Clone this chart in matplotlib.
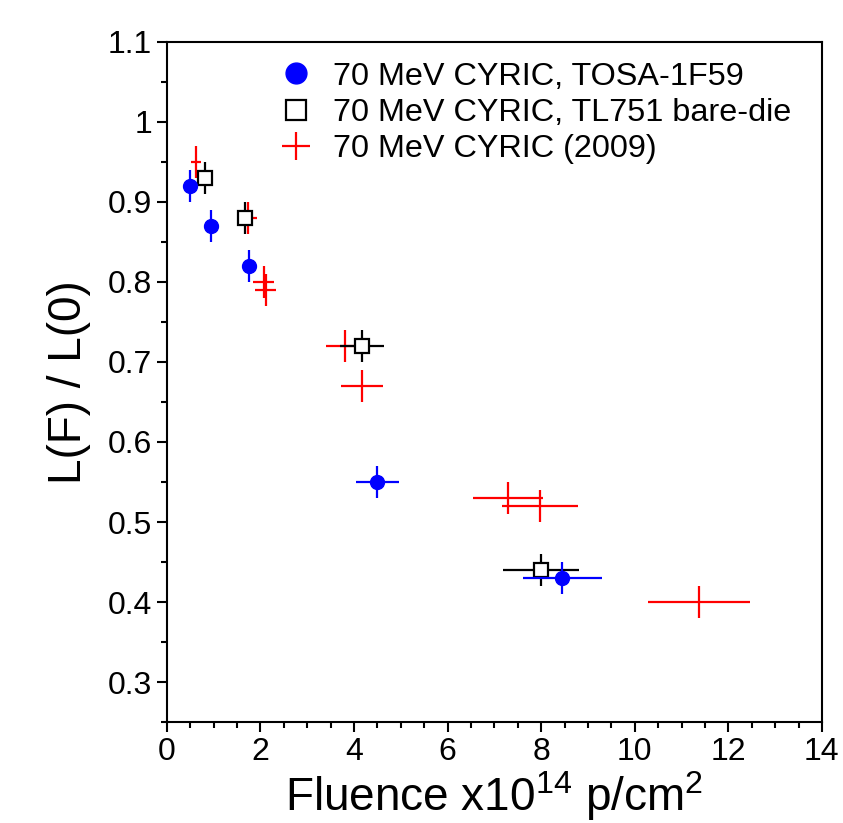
import matplotlib
matplotlib.use("Agg")
import matplotlib.pyplot as plt
from matplotlib.ticker import MultipleLocator, FuncFormatter
from matplotlib.lines import Line2D

plt.rcParams['font.family'] = ['Liberation Sans', 'DejaVu Sans']

# Series 1: 70 MeV CYRIC, TOSA-1F59 (blue filled circles)
tosa_x = [0.5, 0.95, 1.75, 4.5, 8.45]
tosa_y = [0.92, 0.87, 0.82, 0.55, 0.43]
tosa_xerr = [0.0, 0.0, 0.0, 0.46, 0.84]
tosa_yerr = [0.02, 0.02, 0.02, 0.02, 0.02]

# Series 2: 70 MeV CYRIC, TL751 bare-die (black open squares)
tl_x = [0.82, 1.67, 4.17, 8.0]
tl_y = [0.93, 0.88, 0.72, 0.44]
tl_xerr = [0.0, 0.0, 0.47, 0.81]
tl_yerr = [0.02, 0.02, 0.02, 0.02]

# Series 3: 70 MeV CYRIC (2009) (red crosses, error bars only)
c09_x = [0.62, 1.73, 2.07, 2.11, 3.8, 4.17, 7.29, 7.97, 11.37]
c09_y = [0.95, 0.88, 0.80, 0.79, 0.72, 0.67, 0.53, 0.52, 0.40]
c09_xerr = [0.1, 0.19, 0.22, 0.22, 0.4, 0.44, 0.75, 0.81, 1.09]
c09_yerr = [0.02, 0.02, 0.02, 0.02, 0.02, 0.02, 0.02, 0.02, 0.02]

labels = ["70 MeV CYRIC, TOSA-1F59", "70 MeV CYRIC, TL751 bare-die", "70 MeV CYRIC (2009)"]

fig = plt.figure(figsize=(8.43, 8.23), dpi=100)
ax = fig.add_axes([0.198, 0.1227, 0.777, 0.8263])

ax.errorbar(c09_x, c09_y, xerr=c09_xerr, yerr=c09_yerr, fmt='none',
            ecolor='red', elinewidth=1.6, capsize=0, zorder=2)
ax.errorbar(tl_x, tl_y, xerr=tl_xerr, yerr=tl_yerr, fmt='s', color='black',
            mfc='white', mec='black', mew=1.6, ms=10.5, ecolor='black',
            elinewidth=1.6, capsize=0, zorder=3)
ax.errorbar(tosa_x, tosa_y, xerr=tosa_xerr, yerr=tosa_yerr, fmt='o', color='blue',
            mfc='blue', mec='blue', ms=10, ecolor='blue',
            elinewidth=1.6, capsize=0, zorder=4)

ax.set_xlim(0, 14)
ax.set_ylim(0.25, 1.1)
ax.xaxis.set_major_locator(MultipleLocator(2))
ax.xaxis.set_minor_locator(MultipleLocator(0.5))
ax.yaxis.set_major_locator(MultipleLocator(0.1))
ax.yaxis.set_minor_locator(MultipleLocator(0.05))
ax.yaxis.set_major_formatter(FuncFormatter(lambda v, p: ('%g' % round(v, 2)) if v > 0.27 else ''))
ax.tick_params(axis='both', which='major', direction='out', length=7, width=1.5,
               labelsize=23, top=False, right=False)
ax.tick_params(axis='both', which='minor', direction='out', length=4, width=1.5,
               top=False, right=False)
for s in ax.spines.values():
    s.set_linewidth(1.5)

ax.set_xlabel(r"Fluence x10$^{\mathregular{14}}$ p/cm$^{\mathregular{2}}$", fontsize=33, labelpad=2)
ax.set_ylabel("L(F) / L(0)", fontsize=33, labelpad=12)

handles = [
    Line2D([], [], marker='o', ls='none', color='blue', ms=15),
    Line2D([], [], marker='s', ls='none', mfc='white', mec='black', mew=1.6, ms=15),
    Line2D([], [], marker='+', ls='none', color='red', ms=20, mew=1.6),
]
ax.legend(handles, labels, loc='upper left', bbox_to_anchor=(0.148, 0.99),
          frameon=False, fontsize=23.3, handlelength=1.2, handletextpad=0.55,
          labelspacing=0.19, borderaxespad=0)

fig.savefig("out.png", dpi=100)
